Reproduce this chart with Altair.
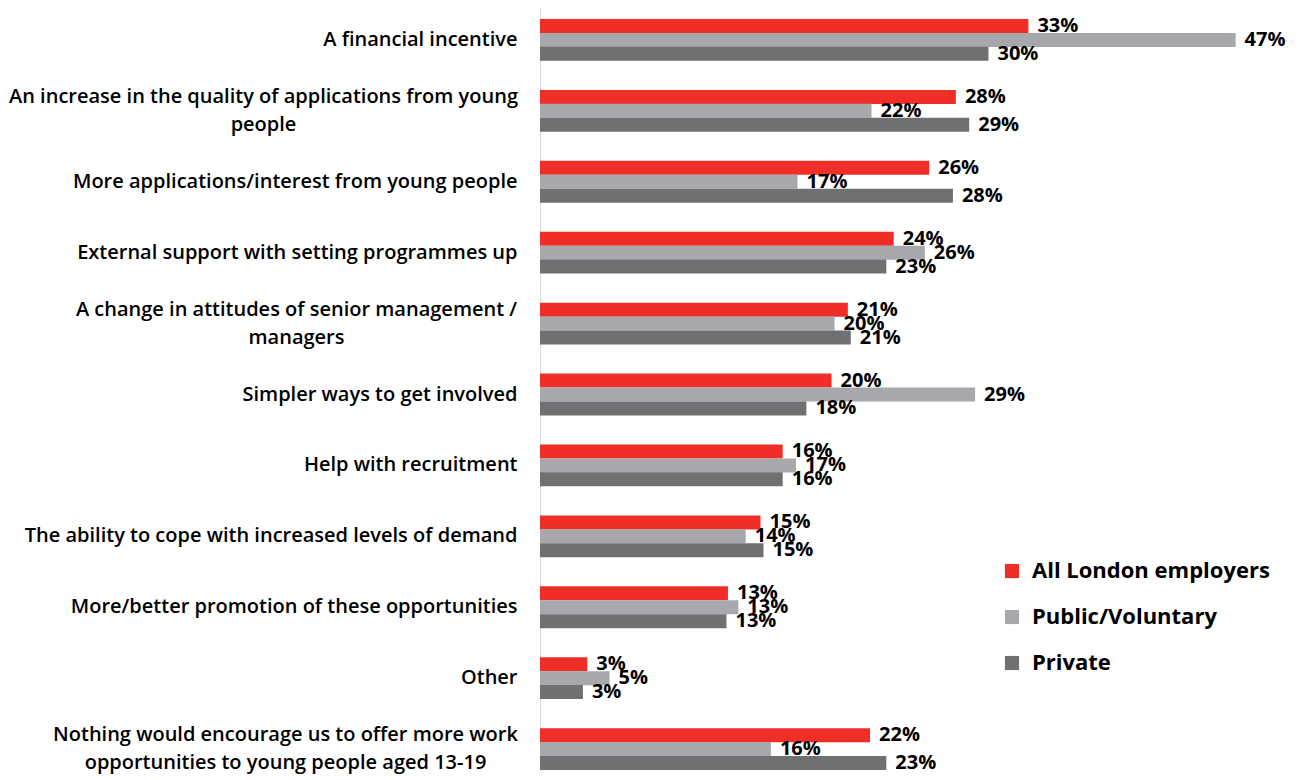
import altair as alt
import pandas as pd

categories = [
    "A financial incentive",
    "An increase in the quality of applications from young|people",
    "More applications/interest from young people",
    "External support with setting programmes up",
    "A change in attitudes of senior management /|managers",
    "Simpler ways to get involved",
    "Help with recruitment",
    "The ability to cope with increased levels of demand",
    "More/better promotion of these opportunities",
    "Other",
    "Nothing would encourage us to offer more work|opportunities to young people aged 13-19",
]
series = ["All London employers", "Public/Voluntary", "Private"]
all_london = [33.0, 28.1, 26.3, 23.9, 20.8, 19.7, 16.4, 14.9, 12.7, 3.2, 22.3]
public_vol = [47.0, 22.4, 17.4, 26.0, 19.9, 29.4, 17.3, 13.9, 13.4, 4.7, 15.6]
private = [30.3, 29.0, 27.9, 23.4, 21.0, 18.0, 16.4, 15.1, 12.6, 2.9, 23.4]
colors = ["#EE2E27", "#A7A8AB", "#6F7072"]

rows = []
for s, vals in zip(series, [all_london, public_vol, private]):
    for c, v in zip(categories, vals):
        rows.append({"category": c, "series": s, "value": v})
df = pd.DataFrame(rows)

FONT = "Open Sans"
PAD = 23

y_enc = alt.Y(
    "category:N",
    sort=categories,
    scale=alt.Scale(paddingInner=0.41, paddingOuter=0.0776, align=1),
    axis=alt.Axis(
        title=None,
        ticks=False,
        domainColor="#D9D9D9",
        domainWidth=1,
        labelFont=FONT,
        labelFontSize=20,
        labelFontWeight=600,
        labelColor="#000000",
        labelLimit=700,
        labelLineHeight=28,
        labelExpr="split(datum.label, '|')",
        labelOffset={
            "condition": {"test": "indexof(datum.value, '|') >= 0", "value": -14},
            "value": 0,
        },
        labelAlign={
            "condition": {"test": "indexof(datum.value, '|') >= 0", "value": "center"},
            "value": "right",
        },
        labelPadding={
            "condition": [
                {"test": "indexof(datum.value, 'An increase') == 0", "value": PAD + 254},
                {"test": "indexof(datum.value, 'A change') == 0", "value": PAD + 221},
                {"test": "indexof(datum.value, 'Nothing') == 0", "value": PAD + 232},
            ],
            "value": PAD,
        },
    ),
)
yoff = alt.YOffset(
    "series:N", sort=series, scale=alt.Scale(paddingInner=0, paddingOuter=0)
)
x_enc = alt.X("value:Q", scale=alt.Scale(domain=[0, 50]), axis=None)

bars = alt.Chart(df).mark_bar(size=14).encode(
    y=y_enc,
    yOffset=yoff,
    x=x_enc,
    color=alt.Color(
        "series:N",
        sort=series,
        scale=alt.Scale(domain=series, range=colors),
        legend=alt.Legend(
            title=None,
            orient="none",
            legendX=461,
            legendY=552,
            symbolType="square",
            symbolSize=200,
            symbolStrokeWidth=0,
            labelFont=FONT,
            labelFontSize=22,
            labelFontWeight="bold",
            labelColor="#000000",
            rowPadding=24,
            labelOffset=9,
            labelLimit=400,
        ),
    ),
)

labels = (
    alt.Chart(df)
    .transform_calculate(pct="format(datum.value, '.0f') + '%'")
    .mark_text(
        align="left",
        baseline="middle",
        dx=9,
        font=FONT,
        fontSize=20,
        fontWeight="bold",
        color="#000000",
    )
    .encode(
        y=alt.Y("category:N", sort=categories),
        yOffset=alt.YOffset("series:N", sort=series),
        x=alt.X("value:Q"),
        text=alt.Text("pct:N"),
    )
)

chart = (
    alt.layer(bars, labels)
    .properties(width=740, height=762, padding=0)
    .configure_view(stroke=None)
)

chart.save("out.html", embed_options={"renderer": "svg", "actions": False})
